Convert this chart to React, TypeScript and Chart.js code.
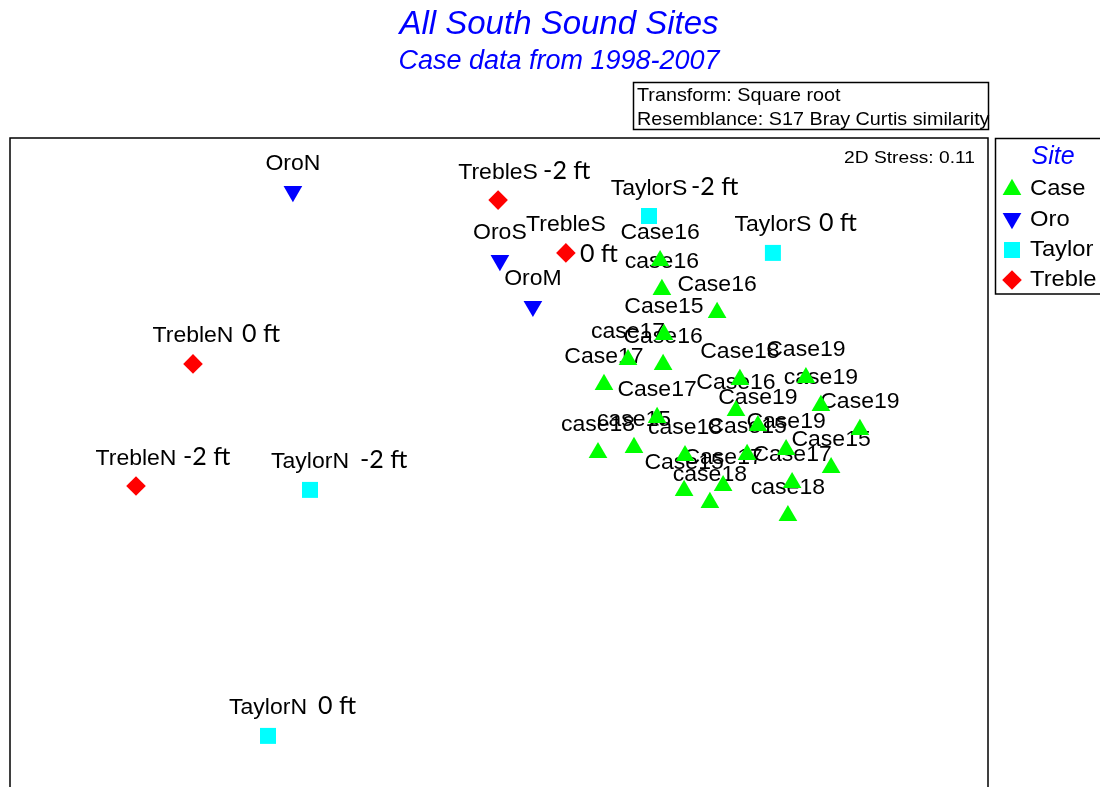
import { useEffect, useRef } from 'react';
import { Chart, registerables } from 'chart.js';
import { drawPoint } from 'chart.js/helpers';

Chart.register(...registerables);

// MDS ordination coordinates (arbitrary units) per site group
const caseX = [0.267, 0.273, 0.457, 0.28, 0.16, 0.277, 0.08, 0.533, 0.753, 0.257, 0.52, 0.803, 0.593, 0.933, 0.06, 0.18, 0.35, 0.557, 0.687, 0.837, 0.347, 0.477, 0.433, 0.707, 0.693];
const caseY = [0.691, 0.595, 0.518, 0.445, 0.361, 0.345, 0.278, 0.295, 0.301, 0.168, 0.191, 0.208, 0.141, 0.128, 0.051, 0.068, 0.041, 0.045, 0.061, 0.001, -0.075, -0.059, -0.115, -0.049, -0.159];
const caseNames = ['Case16', 'case16', 'Case16', 'Case15', 'case17', 'Case16', 'Case17', 'Case18', 'Case19', 'Case17', 'Case16', 'case19', 'Case19', 'Case19', 'case18', 'case15', 'case18', 'Case15', 'Case19', 'Case15', 'Case15', 'Case17', 'case18', 'Case17', 'case18'];

const oroX = [-0.957, -0.267, -0.157];
const oroY = [0.922, 0.692, 0.539];
const oroNames = ['OroN', 'OroS', 'OroM'];

const taylorX = [0.23, 0.643, -0.9, -1.04];
const taylorY = [0.84, 0.717, -0.073, -0.893];
const taylorNames = ['TaylorS', 'TaylorS', 'TaylorN', 'TaylorN'];
const taylorDepths = ['-2 ft', '0 ft', '-2 ft', '0 ft'];

const trebleX = [-0.273, -0.047, -1.29, -1.48];
const trebleY = [0.893, 0.717, 0.347, -0.06];
const trebleNames = ['TrebleS', 'TrebleS', 'TrebleN', 'TrebleN'];
const trebleDepths = ['-2 ft', '0 ft', '0 ft', '-2 ft'];

const siteNames = ['Case', 'Oro', 'Taylor', 'Treble'];
const siteColors = ['#00ff00', '#0000ff', '#00ffff', '#ff0000'];

const titleText = 'All South Sound Sites';
const subtitleText = 'Case data from 1998-2007';
const transformText = 'Transform: Square root';
const resemblanceText = 'Resemblance: S17 Bray Curtis similarity';
const stressText = '2D Stress: 0.11';
const legendTitle = 'Site';

// marker shapes per site group
const markerStyles = [
  { pointStyle: 'triangle', radius: 10.8, rotation: 0 },
  { pointStyle: 'triangle', radius: 10.8, rotation: 180 },
  { pointStyle: 'rect', radius: 11.3, rotation: 0 },
  { pointStyle: 'rectRot', radius: 9.8, rotation: 0 },
];

const namesByDataset = [caseNames, oroNames, taylorNames, trebleNames];
const depthsByDataset: (string[] | null)[] = [null, null, taylorDepths, trebleDepths];

// depth tag placement: [x offset of tag start from marker, baseline offset from marker]
const depthTagPlacement: Record<string, [number, number]> = {
  'TaylorS -2 ft': [42, -21.5],
  'TaylorS 0 ft': [46, -21.5],
  'TaylorN -2 ft': [50, -21.5],
  'TaylorN 0 ft': [50, -21.5],
  'TrebleS -2 ft': [45, -21.5],
  'TrebleS 0 ft': [14, 9],
  'TrebleN 0 ft': [49, -21.5],
  'TrebleN -2 ft': [47, -21.5],
};

const ARIAL = '"Liberation Sans", Arial, sans-serif';
const TAG_FONT = 'Lato, "Open Sans", sans-serif';

function drawText(
  ctx: CanvasRenderingContext2D,
  str: string,
  x: number,
  y: number,
  font: string,
  color: string,
  align: CanvasTextAlign,
  sx = 1,
) {
  ctx.save();
  ctx.font = font;
  ctx.fillStyle = color;
  ctx.textAlign = align;
  ctx.textBaseline = 'alphabetic';
  ctx.translate(x, y);
  ctx.scale(sx, 1);
  ctx.fillText(str, 0, 0);
  ctx.restore();
}

const pointLabels = {
  id: 'pointLabels',
  beforeDatasetsDraw(chart: Chart) {
    const ctx = chart.ctx;
    namesByDataset.forEach((names, di) => {
      const meta = chart.getDatasetMeta(di);
      const depths = depthsByDataset[di];
      meta.data.forEach((el: any, i: number) => {
        const name = names[i];
        drawText(ctx, name, el.x, el.y - 21.5, `21.5px ${ARIAL}`, '#000', 'center', 1.07);
        if (depths) {
          const tag = depths[i];
          const place = depthTagPlacement[`${name} ${tag}`] || [46, -21.5];
          drawText(ctx, tag, el.x + place[0], el.y + place[1], `25px ${TAG_FONT}`, '#000', 'left');
        }
      });
    });
  },
};

const decorations = {
  id: 'decorations',
  afterDraw(chart: Chart) {
    const ctx = chart.ctx;
    const area = chart.chartArea;
    ctx.save();
    ctx.strokeStyle = '#000';
    ctx.lineWidth = 1.5;
    // plot frame
    ctx.strokeRect(area.left, area.top, area.right - area.left, area.bottom - area.top);
    // transform / resemblance box
    ctx.strokeRect(633.5, 82.5, 355, 47);
    // legend box
    ctx.strokeRect(995.5, 138.5, 120, 155.5);
    ctx.restore();

    drawText(ctx, titleText, 559, 34, `italic 33px ${ARIAL}`, '#0000ff', 'center');
    drawText(ctx, subtitleText, 559, 69, `italic 27px ${ARIAL}`, '#0000ff', 'center');
    drawText(ctx, transformText, 637, 101, `19px ${ARIAL}`, '#000', 'left', 1.04);
    drawText(ctx, resemblanceText, 637, 125, `19px ${ARIAL}`, '#000', 'left', 1.04);
    drawText(ctx, stressText, area.right - 13, 163, `17px ${ARIAL}`, '#000', 'right', 1.13);

    drawText(ctx, legendTitle, 1053, 164, `italic 25px ${ARIAL}`, '#0000ff', 'center');
    const rowY = [187, 221, 250, 280];
    const textY = [195, 226, 256, 286];
    siteNames.forEach((name, i) => {
      ctx.save();
      ctx.fillStyle = siteColors[i];
      drawPoint(ctx, { ...markerStyles[i], borderWidth: 0 } as any, 1012, rowY[i] + (i === 0 ? 2.6 : i === 1 ? -2.6 : 0));
      ctx.restore();
      drawText(ctx, name, 1030, textY[i], `22px ${ARIAL}`, '#000', 'left', 1.08);
    });
  },
};

export default function App() {
  const canvasRef = useRef<HTMLCanvasElement | null>(null);

  useEffect(() => {
    const canvas = canvasRef.current;
    if (!canvas) return;
    const groups = [
      [caseX, caseY],
      [oroX, oroY],
      [taylorX, taylorY],
      [trebleX, trebleY],
    ];
    const chart = new Chart(canvas, {
      type: 'scatter',
      data: {
        datasets: groups.map(([xs, ys], gi) => ({
          label: siteNames[gi],
          data: xs.map((x, i) => ({ x, y: ys[i] })),
          pointStyle: markerStyles[gi].pointStyle as any,
          pointRadius: markerStyles[gi].radius,
          pointRotation: markerStyles[gi].rotation,
          pointBackgroundColor: siteColors[gi],
          pointBorderWidth: 0,
          showLine: false,
        })),
      },
      options: {
        responsive: false,
        animation: false,
        events: [],
        layout: { autoPadding: false, padding: { left: 10, right: 112, top: 138, bottom: 2 } },
        scales: {
          x: { type: 'linear', min: -1.9, max: 1.36, display: false },
          y: { type: 'linear', min: -1.1, max: 1.1, display: false },
        },
        plugins: {
          legend: { display: false },
          tooltip: { enabled: false },
          title: { display: false },
        },
      },
      plugins: [pointLabels, decorations],
    });
    return () => chart.destroy();
  }, []);

  return (
    <div
      style={{
        position: 'fixed',
        left: 0,
        top: 0,
        width: 1100,
        height: 787,
        overflow: 'hidden',
        background: '#fff',
      }}
    >
      <canvas ref={canvasRef} width={1100} height={800} style={{ display: 'block' }} />
    </div>
  );
}
